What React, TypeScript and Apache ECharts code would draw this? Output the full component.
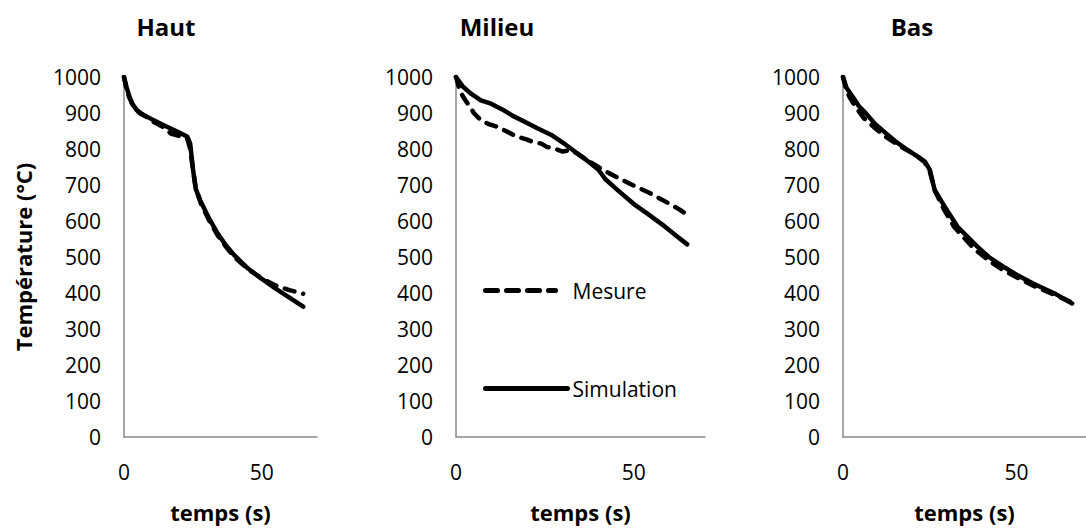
import React, { useEffect, useRef } from "react";
import * as echarts from "echarts";

const panelTitles = ["Haut", "Milieu", "Bas"];
const seriesNames = ["Mesure", "Simulation"];
const xAxisName = "temps (s)";
const yAxisName = "Température (°C)";

// [temps (s), température (°C)]
const hautMesure = [
  [0, 1000], [1, 962], [2, 942], [3, 925], [4, 912], [6, 898], [8, 890], [10, 878],
  [13, 866], [15, 858], [17, 843], [20, 836], [22, 829], [23, 828], [24, 800],
  [25, 745], [26, 692], [28, 646], [31, 600], [34, 560], [37, 528], [40, 500],
  [45, 466], [50, 440], [55, 421], [60, 408], [65, 398],
];
const hautSimulation = [
  [0, 1000], [1, 970], [2, 945], [3, 926], [4.6, 908], [7, 895], [10, 883],
  [15, 864], [20, 846], [23, 834], [24, 815], [25, 745], [26, 690], [27.6, 658],
  [31, 605], [34, 565], [37, 532], [40, 505], [45, 468], [50, 439], [55, 412],
  [60, 387], [65, 362],
];
const milieuMesure = [
  [0, 1000], [1, 965], [2, 945], [3, 930], [4, 917], [5, 900], [7, 880], [9, 870],
  [11.5, 862], [14, 850], [17, 835], [20, 826], [22, 818], [24, 815], [25.5, 806],
  [28, 800], [30, 793], [32, 797], [34, 788], [37, 768], [40, 750], [43, 733],
  [46, 718], [50, 698], [54, 680], [57, 664], [60, 648], [63, 631], [65, 617],
];
const milieuSimulation = [
  [0, 1000], [2, 973], [4, 955], [7, 935], [9.6, 927], [13, 910], [16, 892],
  [20, 872], [23, 857], [27, 838], [30, 818], [33, 796], [36.7, 769], [40, 743],
  [42, 716], [46, 681], [50, 647], [54, 619], [58, 590], [62, 558], [65, 535],
];
const basMesure = [
  [0, 1000], [1, 962], [2, 942], [4, 912], [6, 886], [9, 860], [12, 836], [15, 817],
  [18, 799], [21, 783], [23.5, 764], [25, 738], [26.5, 684], [29, 634], [32, 584],
  [35, 552], [38, 521], [42, 490], [46, 464], [50, 444], [54, 424], [58, 407],
  [62, 391], [66, 373],
];
const basSimulation = [
  [0, 1000], [1, 970], [2.8, 945], [4.5, 920], [6.6, 899], [9, 872], [12.3, 844],
  [15, 822], [17.9, 802], [21, 782], [23.6, 765], [25, 742], [26.4, 686],
  [29.3, 640], [33, 584], [38.7, 529], [42, 500], [46.2, 473], [50, 451],
  [53.8, 431], [57.5, 414], [61.3, 397], [66, 371],
];

const panelData = [
  [hautMesure, hautSimulation],
  [milieuMesure, milieuSimulation],
  [basMesure, basSimulation],
];

const FONT = '"Open Sans", "Noto Sans", sans-serif';
const AXIS_COLOR = "#8a8a8a";

export default function App() {
  const ref = useRef<HTMLDivElement>(null);

  useEffect(() => {
    if (!ref.current) return;
    const chart = echarts.init(ref.current, undefined, { renderer: "svg" });

    const grids = [
      { left: 124, top: 77, width: 193, height: 360 },
      { left: 456, top: 77, width: 249, height: 360 },
      { left: 843, top: 77, width: 247, height: 360 },
    ];
    const titleX = [166, 497, 912];

    const xAxes = grids.map((_, i) => ({
      type: "value",
      gridIndex: i,
      min: 0,
      max: 70,
      interval: 50,
      name: xAxisName,
      nameLocation: "middle",
      nameGap: 64,
      nameTextStyle: { fontFamily: FONT, fontWeight: "bold", fontSize: 22, color: "#000" },
      axisLine: { show: true, lineStyle: { color: AXIS_COLOR, width: 1.5 } },
      axisTick: { show: false },
      splitLine: { show: false },
      axisLabel: {
        fontFamily: FONT,
        fontSize: 21,
        color: "#000",
        margin: 24,
        showMaxLabel: false,
        formatter: (v: number) => String(v),
      },
    }));

    const yAxes = grids.map((_, i) => ({
      type: "value",
      gridIndex: i,
      min: 0,
      max: 1000,
      interval: 100,
      name: i === 0 ? yAxisName : "",
      nameLocation: "middle",
      nameGap: 90,
      nameRotate: 90,
      nameTextStyle: { fontFamily: FONT, fontWeight: "bold", fontSize: 22, color: "#000" },
      axisLine: { show: true, lineStyle: { color: AXIS_COLOR, width: 1.5 } },
      axisTick: { show: false },
      splitLine: { show: false },
      axisLabel: {
        fontFamily: FONT,
        fontSize: 21,
        color: "#000",
        margin: 23,
        formatter: (v: number) => String(v),
      },
    }));

    const series: any[] = [];
    panelData.forEach((pair, i) => {
      pair.forEach((data, k) => {
        series.push({
          name: seriesNames[k],
          type: "line",
          xAxisIndex: i,
          yAxisIndex: i,
          data,
          symbol: "none",
          showSymbol: false,
          silent: true,
          color: "#000",
          itemStyle: { color: "#000" },
          lineStyle: {
            color: "#000",
            width: 4.5,
            type: k === 0 ? [10, 9] : "solid",
            cap: "round",
            join: "round",
          },
          z: k === 0 ? 2 : 3,
        });
      });
    });

    chart.setOption({
      animation: false,
      grid: grids,
      xAxis: xAxes,
      yAxis: yAxes,
      series,
      legend: [
        {
          data: [seriesNames[0]],
          left: 483,
          top: 280,
          padding: 0,
          orient: "vertical",
          selectedMode: false,
          itemWidth: 70,
          itemHeight: 14,
          itemStyle: { opacity: 0 },
          lineStyle: { type: [12, 9], width: 5, cap: "round", color: "#000" },
          textStyle: { fontFamily: FONT, fontSize: 21, color: "#000", padding: [0, 0, 0, 12] },
        },
        {
          data: [seriesNames[1]],
          left: 483,
          top: 378,
          padding: 0,
          orient: "vertical",
          selectedMode: false,
          itemWidth: 82,
          itemHeight: 14,
          itemStyle: { opacity: 0 },
          lineStyle: { type: "solid", width: 5, cap: "round", color: "#000" },
          textStyle: { fontFamily: FONT, fontSize: 21, color: "#000" },
        },
      ],
      graphic: panelTitles.map((t, i) => ({
        type: "text",
        x: titleX[i],
        y: 26,
        style: {
          text: t,
          fill: "#000",
          font: `bold 24px ${FONT}`,
          textAlign: "center",
          textVerticalAlign: "middle",
        },
      })),
    });

    return () => chart.dispose();
  }, []);

  return (
    <div
      ref={ref}
      style={{ position: "absolute", left: 0, top: 0, width: 1086, height: 529, background: "#fff" }}
    />
  );
}
